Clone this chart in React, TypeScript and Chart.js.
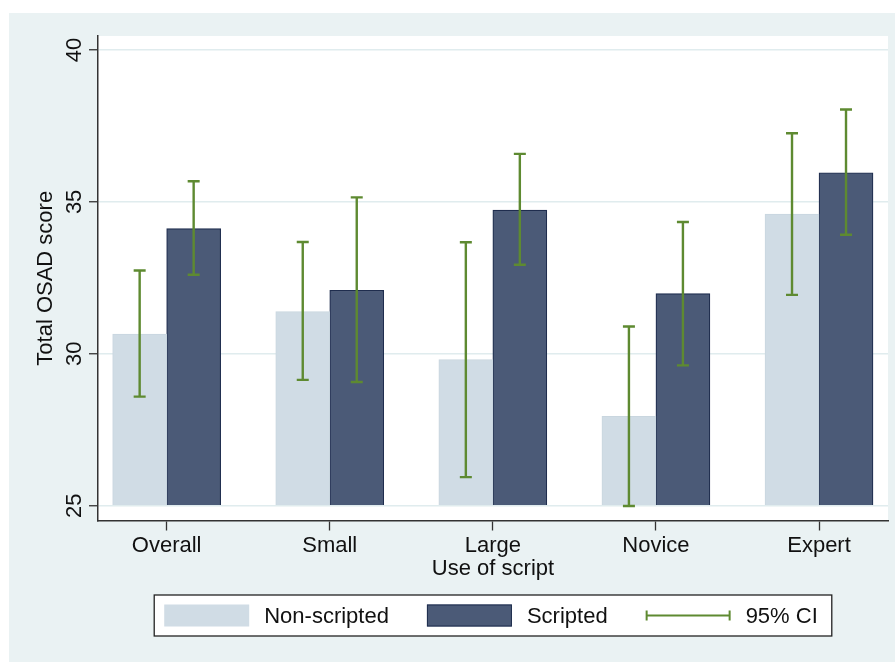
import React, { useEffect, useRef } from "react";
import { Chart, registerables } from "chart.js";

Chart.register(...registerables);

const categories = ["Overall", "Small", "Large", "Novice", "Expert"];
const nonScripted = [30.65, 31.39, 29.81, 27.94, 34.6];
const nonScriptedLow = [28.59, 29.14, 25.94, 24.99, 31.94];
const nonScriptedHigh = [32.74, 33.68, 33.67, 30.9, 37.26];
const scripted = [34.12, 32.09, 34.73, 31.98, 35.96];
const scriptedLow = [32.6, 29.07, 32.93, 29.62, 33.92];
const scriptedHigh = [35.68, 35.15, 36.58, 34.34, 38.04];
const yTicks = [25, 30, 35, 40];
const legendLabels = ["Non-scripted", "Scripted", "95% CI"];

const FONT = "'Liberation Sans', Arial, Helvetica, sans-serif";
const BG = "#eaf2f3";
const LIGHT = "#d0dce5";
const DARK = "#4b5a77";
const DARK_EDGE = "#1f2d4e";
const CI = "#5e8a31";

const plotBg = {
  id: "plotBg",
  beforeDraw(chart: any) {
    const { ctx, chartArea } = chart;
    ctx.save();
    ctx.fillStyle = "#ffffff";
    ctx.fillRect(chartArea.left, chartArea.top, chartArea.right - chartArea.left, chartArea.bottom - chartArea.top);
    ctx.restore();
  },
};

const errorBars = {
  id: "errorBars",
  afterDatasetsDraw(chart: any) {
    const { ctx } = chart;
    const y = chart.scales.y;
    const lows = [nonScriptedLow, scriptedLow];
    const highs = [nonScriptedHigh, scriptedHigh];
    ctx.save();
    ctx.strokeStyle = CI;
    ctx.lineWidth = 2.4;
    ctx.lineCap = "butt";
    [0, 1].forEach((di) => {
      const meta = chart.getDatasetMeta(di);
      meta.data.forEach((bar: any, i: number) => {
        const x = bar.x;
        const yl = y.getPixelForValue(lows[di][i]);
        const yh = y.getPixelForValue(highs[di][i]);
        ctx.beginPath();
        ctx.moveTo(x, yl);
        ctx.lineTo(x, yh);
        ctx.moveTo(x - 6, yl);
        ctx.lineTo(x + 6, yl);
        ctx.moveTo(x - 6, yh);
        ctx.lineTo(x + 6, yh);
        ctx.stroke();
      });
    });
    ctx.restore();
  },
};

const stataLegend = {
  id: "stataLegend",
  afterDraw(chart: any) {
    const { ctx, chartArea } = chart;
    ctx.save();
    ctx.font = `22px ${FONT}`;
    const sw = 85;
    const gapText = 15;
    const gapItem = 38;
    const padL = 10;
    const padR = 14;
    const widths = legendLabels.map((t) => ctx.measureText(t).width);
    let total = padL + padR;
    widths.forEach((w, i) => {
      total += sw + gapText + w + (i < widths.length - 1 ? gapItem : 0);
    });
    const cx = (chartArea.left + chartArea.right) / 2;
    const left = cx - total / 2;
    const top = 582;
    const h = 41;
    const cy = top + h / 2;
    ctx.fillStyle = "#ffffff";
    ctx.fillRect(left, top, total, h);
    ctx.strokeStyle = "#222";
    ctx.lineWidth = 1.3;
    ctx.strokeRect(left, top, total, h);
    let x = left + padL;
    legendLabels.forEach((t, i) => {
      if (i === 0) {
        ctx.fillStyle = LIGHT;
        ctx.fillRect(x, cy - 11, sw, 22);
      } else if (i === 1) {
        ctx.fillStyle = DARK;
        ctx.fillRect(x, cy - 11, sw, 22);
        ctx.strokeStyle = DARK_EDGE;
        ctx.lineWidth = 1;
        ctx.strokeRect(x + 0.5, cy - 10.5, sw - 1, 21);
      } else {
        ctx.strokeStyle = CI;
        ctx.lineWidth = 2;
        ctx.beginPath();
        ctx.moveTo(x, cy);
        ctx.lineTo(x + sw, cy);
        ctx.moveTo(x + 1, cy - 5);
        ctx.lineTo(x + 1, cy + 5);
        ctx.moveTo(x + sw - 1, cy - 5);
        ctx.lineTo(x + sw - 1, cy + 5);
        ctx.stroke();
      }
      x += sw + gapText;
      ctx.fillStyle = "#111";
      ctx.textBaseline = "middle";
      ctx.textAlign = "left";
      ctx.fillText(t, x, cy + 1);
      x += widths[i] + gapItem;
    });
    ctx.restore();
  },
};

export default function App() {
  const ref = useRef<HTMLCanvasElement | null>(null);

  useEffect(() => {
    document.body.style.margin = "0";
    document.body.style.background = "#ffffff";
    const canvas = ref.current!;
    const chart = new Chart(canvas, {
      type: "bar",
      data: {
        datasets: [
          {
            label: "Non-scripted",
            data: categories.map((_, i) => ({ x: i + 1, y: nonScripted[i] })),
            backgroundColor: LIGHT,
            borderColor: "#c9d6df",
            borderWidth: 1,
            base: 25,
            barThickness: 54,
          } as any,
          {
            label: "Scripted",
            data: categories.map((_, i) => ({ x: i + 1, y: scripted[i] })),
            backgroundColor: DARK,
            borderColor: DARK_EDGE,
            borderWidth: 1.2,
            base: 25,
            barThickness: 54,
          } as any,
        ],
      },
      options: {
        animation: false,
        responsive: false,
        maintainAspectRatio: false,
        layout: { padding: { left: 0, right: 7, top: 23, bottom: 0 } },
        plugins: {
          legend: { display: false },
          tooltip: { enabled: false },
        },
        scales: {
          x: {
            type: "linear",
            offset: false,
            min: 0.579,
            max: 5.423,
            afterBuildTicks: (scale: any) => {
              scale.ticks = categories.map((_, i) => ({ value: i + 1 }));
            },
            afterFit: (scale: any) => {
              scale.height = 141.5;
            },
            ticks: {
              callback: (v: any) => categories[Math.round(Number(v)) - 1] ?? "",
              color: "#111",
              font: { family: FONT, size: 22 },
              padding: 2,
              maxRotation: 0,
              minRotation: 0,
              autoSkip: false,
            },
            grid: {
              offset: false,
              drawOnChartArea: false,
              drawTicks: true,
              tickLength: 10,
              tickColor: "#333",
              tickWidth: 1.3,
            },
            border: { display: true, color: "#333", width: 1.5 },
            title: {
              display: true,
              text: "Use of script",
              color: "#111",
              font: { family: FONT, size: 22 },
              padding: { top: 0, bottom: 80 },
            },
          },
          y: {
            type: "linear",
            min: 24.513,
            max: 40.46,
            afterBuildTicks: (scale: any) => {
              scale.ticks = yTicks.map((v) => ({ value: v }));
            },
            afterFit: (scale: any) => {
              scale.width = 89;
            },
            ticks: {
              color: "#111",
              font: { family: FONT, size: 22 },
              minRotation: 90,
              maxRotation: 90,
              crossAlign: "center",
              padding: 2,
            },
            grid: {
              color: "#e0ecee",
              lineWidth: 1.5,
              drawTicks: true,
              tickLength: 9,
              tickColor: "#333",
              tickWidth: 1.3,
            },
            border: { display: true, color: "#333", width: 1.5 },
            title: {
              display: true,
              text: "Total OSAD score",
              color: "#111",
              font: { family: FONT, size: 22 },
              padding: { top: 24, bottom: 0 },
            },
          },
        },
      } as any,
      plugins: [plotBg, errorBars, stataLegend],
    });
    return () => chart.destroy();
  }, []);

  return (
    <div style={{ paddingLeft: 9, paddingTop: 13, background: "#ffffff" }}>
      <div style={{ width: 886, height: 649, background: BG }}>
        <canvas ref={ref} width={886} height={649} style={{ display: "block", width: 886, height: 649 }} />
      </div>
    </div>
  );
}
